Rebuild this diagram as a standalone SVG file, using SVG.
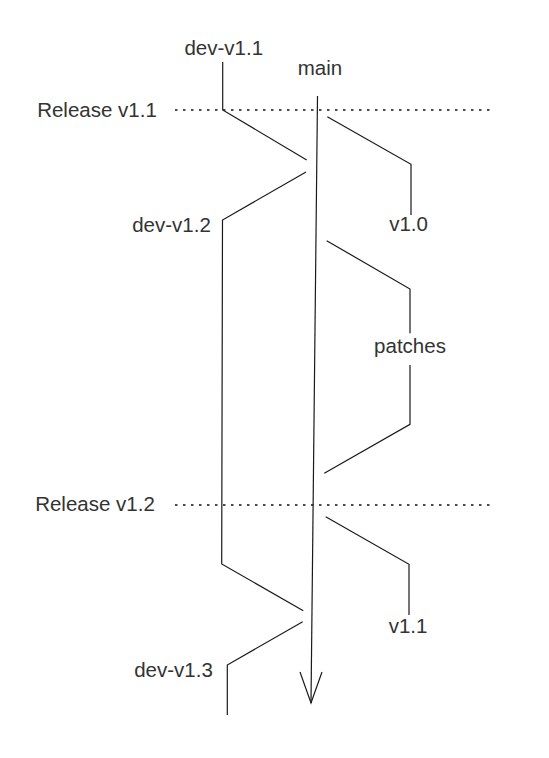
<svg xmlns="http://www.w3.org/2000/svg" width="549" height="758" viewBox="0 0 549 758">
<style>
.ln{fill:none;stroke:#1a1a1a;stroke-width:1.2}
.dot{fill:none;stroke:#111;stroke-width:1.5;stroke-dasharray:2.5 5.5}
.t{font-family:"Liberation Sans",Arial,sans-serif;font-size:20.5px;fill:#333;text-anchor:middle}
</style>
<rect width="549" height="758" fill="#fff"/>
<g id="connectors">
<line class="dot" x1="175" y1="110" x2="490" y2="110"/>
<line class="dot" x1="175" y1="505" x2="490" y2="505"/>
<polyline class="ln" points="317.5,96 311,703"/>
<polyline class="ln" points="300,672 311,703 322,672"/>
<polyline class="ln" points="222.7,62 222.7,110 306.7,160"/>
<polyline class="ln" points="306,172 222.5,220 221.7,564 303.3,610.7"/>
<polyline class="ln" points="302.7,621.7 227.3,665 227.3,715"/>
<polyline class="ln" points="327.3,116.7 411,164.3 411,215"/>
<polyline class="ln" points="326.7,240.7 410,289 410,333.3"/>
<polyline class="ln" points="410,365 410,424.3 324.3,473.3"/>
<polyline class="ln" points="325.7,516.7 409,564.3 409,615"/>
</g>
<g id="release-v1.1"><text class="t" x="97" y="117">Release v1.1</text></g>
<g id="release-v1.2"><text class="t" x="95" y="511">Release v1.2</text></g>
<g id="dev-v1.1"><text class="t" x="223.8" y="55">dev-v1.1</text></g>
<g id="main"><text class="t" x="320" y="75">main</text></g>
<g id="dev-v1.2"><text class="t" x="171.5" y="232">dev-v1.2</text></g>
<g id="dev-v1.3"><text class="t" x="173.5" y="677">dev-v1.3</text></g>
<g id="v1.0"><text class="t" x="408.5" y="231">v1.0</text></g>
<g id="patches"><text class="t" x="410" y="353">patches</text></g>
<g id="v1.1"><text class="t" x="408" y="633">v1.1</text></g>
</svg>
